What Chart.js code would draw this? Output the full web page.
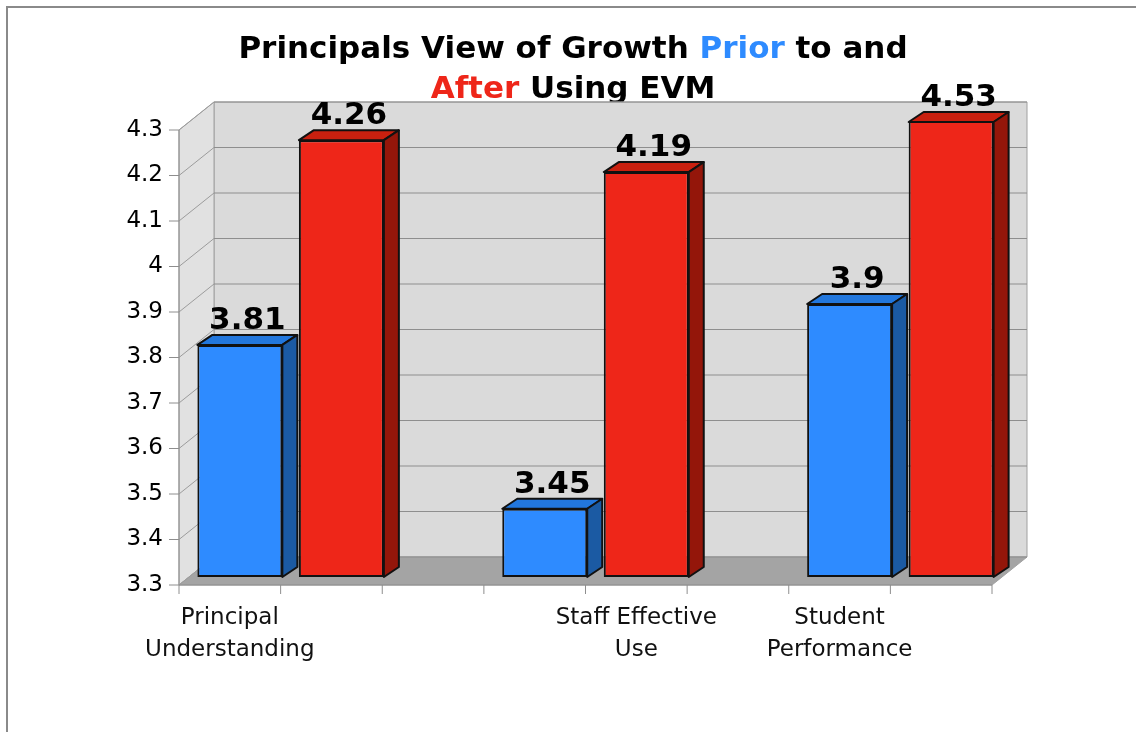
<!DOCTYPE html>
<html>
<head>
<meta charset="utf-8">
<title>Principals View of Growth</title>
<script src="https://cdn.jsdelivr.net/npm/chart.js@4.4.1/dist/chart.umd.min.js"></script>
<style>
  html, body { margin: 0; padding: 0; background: #fff; }
  canvas { display: block; }
</style>
</head>
<body>
<canvas id="growthChart" width="1136" height="732"></canvas>
<script>
const categories = [['Principal', 'Understanding'], ['Staff Effective', 'Use'], ['Student', 'Performance']];
const groupX = [1, 2, 3];
const labelX = [5 / 6, 13 / 6, 17 / 6];
const priorScores = [3.81, 3.45, 3.9];
const afterScores = [4.26, 4.19, 4.53];
const yTicks = [3.3, 3.4, 3.5, 3.6, 3.7, 3.8, 3.9, 4, 4.1, 4.2, 4.3];
const xRange = [2 / 3, 10 / 3];

const BLUE = '#2e8bff';
const RED = '#ee2619';
const titleLines = [
    [['Principals View of Growth ', '#000'], ['Prior', BLUE], [' to and', '#000']],
    [['After', RED], [' Using EVM', '#000']]
];

// oblique offsets of the front edge, back wall and bar depth, relative to the bar plane
const front = { dx: -10, dy: 8 };
const back = { dx: 25, dy: -20 };
const depth = { dx: 15, dy: -10 };
const faces = [
    { top: '#2277dd', side: '#1b5aa3' },
    { top: '#c9200f', side: '#94160a' }
];
const FONT = '"DejaVu Sans", Verdana, sans-serif';

function poly(ctx, pts, fill) {
    ctx.beginPath();
    pts.forEach(([x, y], i) => i ? ctx.lineTo(x, y) : ctx.moveTo(x, y));
    ctx.closePath();
    ctx.fillStyle = fill;
    ctx.fill();
    ctx.stroke();
}

function line(ctx, a, b, color) {
    ctx.strokeStyle = color;
    ctx.beginPath();
    ctx.moveTo(a[0], a[1]);
    ctx.lineTo(b[0], b[1]);
    ctx.stroke();
}

const P = (x, y, o) => [x + o.dx, y + o.dy];

const frame3d = {
    id: 'frame3d',
    beforeDraw(chart) {
        const ctx = chart.ctx;
        ctx.save();
        ctx.strokeStyle = '#8a8a8a';
        ctx.lineWidth = 2;
        ctx.beginPath();
        ctx.moveTo(7, chart.height);
        ctx.lineTo(7, 7);
        ctx.lineTo(chart.width, 7);
        ctx.stroke();

        ctx.font = `bold 31px ${FONT}`;
        ctx.textAlign = 'left';
        ctx.textBaseline = 'alphabetic';
        titleLines.forEach((parts, n) => {
            const w = parts.reduce((s, [t]) => s + ctx.measureText(t).width, 0);
            let x = 573 - w / 2;
            parts.forEach(([t, c]) => {
                ctx.fillStyle = c;
                ctx.fillText(t, x, 58 + n * 40);
                x += ctx.measureText(t).width;
            });
        });
        ctx.restore();
    },
    beforeDatasetsDraw(chart) {
        const ctx = chart.ctx, xs = chart.scales.x, ys = chart.scales.y;
        const l = xs.getPixelForValue(xs.min), r = xs.getPixelForValue(xs.max);
        const b = ys.getPixelForValue(ys.min), t = ys.getPixelForValue(ys.max);
        ctx.save();
        ctx.lineWidth = 1;
        ctx.strokeStyle = '#a0a0a0';
        poly(ctx, [P(l, b, back), P(r, b, back), P(r, t, back), P(l, t, back)], '#dadada');
        poly(ctx, [P(l, b, front), P(l, t, front), P(l, t, back), P(l, b, back)], '#e1e1e1');
        poly(ctx, [P(l, b, front), P(r, b, front), P(r, b, back), P(l, b, back)], '#a4a4a4');

        yTicks.forEach(v => {
            const y = ys.getPixelForValue(v);
            line(ctx, P(l, y, back), P(r, y, back), '#8e8e8e');
            line(ctx, P(l, y, front), P(l, y, back), '#9c9c9c');
            line(ctx, P(l - 10, y, front), P(l, y, front), '#8e8e8e');
        });
        line(ctx, P(l, b, front), P(l, t, front), '#8e8e8e');
        line(ctx, P(l, b, front), P(r, b, front), '#8e8e8e');

        for (let v = xs.min; v <= xs.max + 1e-6; v += 1 / 3) {
            const x = xs.getPixelForValue(v);
            line(ctx, P(x, b, front), P(x, b + 9, front), '#8e8e8e');
        }

        ctx.fillStyle = '#111';
        ctx.font = `23px ${FONT}`;
        ctx.textAlign = 'center';
        ctx.textBaseline = 'alphabetic';
        categories.forEach((lines, i) => {
            const [x, y] = P(xs.getPixelForValue(labelX[i]), b, front);
            lines.forEach((txt, k) => ctx.fillText(txt, x, y + 39 + k * 32));
        });
        ctx.restore();
    },
    afterDatasetsDraw(chart) {
        const ctx = chart.ctx, top = chart.chartArea.top;
        const labels = [];
        ctx.save();
        ctx.lineWidth = 2;
        ctx.lineJoin = 'round';
        ctx.strokeStyle = '#111';
        chart.data.datasets.forEach((ds, d) => {
            chart.getDatasetMeta(d).data.forEach((bar, i) => {
                const { x, y, base, width } = bar.getProps(['x', 'y', 'base', 'width'], true);
                const l = x - width / 2, r = x + width / 2, t = Math.max(y, top);
                poly(ctx, [[l, t], [r, t], P(r, t, depth), P(l, t, depth)], faces[d].top);
                poly(ctx, [[r, t], P(r, t, depth), P(r, base, depth), [r, base]], faces[d].side);
                labels.push([String(ds.data[i].y), x + depth.dx / 2, t + depth.dy - 6]);
            });
        });
        ctx.fillStyle = '#000';
        ctx.font = `bold 31px ${FONT}`;
        ctx.textAlign = 'center';
        ctx.textBaseline = 'alphabetic';
        labels.forEach(([txt, x, y]) => ctx.fillText(txt, x, y));
        ctx.restore();
    }
};

const barStyle = {
    borderColor: '#111',
    borderWidth: 2,
    borderSkipped: false,
    base: yTicks[0],
    categoryPercentage: 0.666,
    barPercentage: 0.837,
    clip: 0
};

const ctx = document.getElementById('growthChart').getContext('2d');
new Chart(ctx, {
    type: 'bar',
    data: {
        datasets: [
            { label: 'Prior', data: priorScores.map((v, i) => ({ x: groupX[i], y: v })), backgroundColor: BLUE, ...barStyle },
            { label: 'After', data: afterScores.map((v, i) => ({ x: groupX[i], y: v })), backgroundColor: RED, ...barStyle }
        ]
    },
    options: {
        responsive: false,
        devicePixelRatio: 1,
        animation: false,
        events: [],
        layout: { padding: { top: 122, bottom: 155, left: 69, right: 134 } },
        plugins: {
            legend: { display: false },
            tooltip: { enabled: false }
        },
        scales: {
            x: {
                type: 'linear',
                display: false,
                offset: false,
                min: xRange[0],
                max: xRange[1],
                afterBuildTicks: s => { s.ticks = groupX.map(v => ({ value: v })); }
            },
            y: {
                min: yTicks[0],
                max: yTicks[yTicks.length - 1],
                afterBuildTicks: s => { s.ticks = yTicks.map(v => ({ value: v })); },
                afterFit: s => { s.width = 120; },
                grid: { display: false, drawTicks: false },
                border: { display: false },
                ticks: {
                    color: '#000',
                    font: { family: FONT, size: 23 },
                    padding: 26,
                    labelOffset: 8,
                    callback: v => String(v)
                }
            }
        }
    },
    plugins: [frame3d]
});
</script>
</body>
</html>
